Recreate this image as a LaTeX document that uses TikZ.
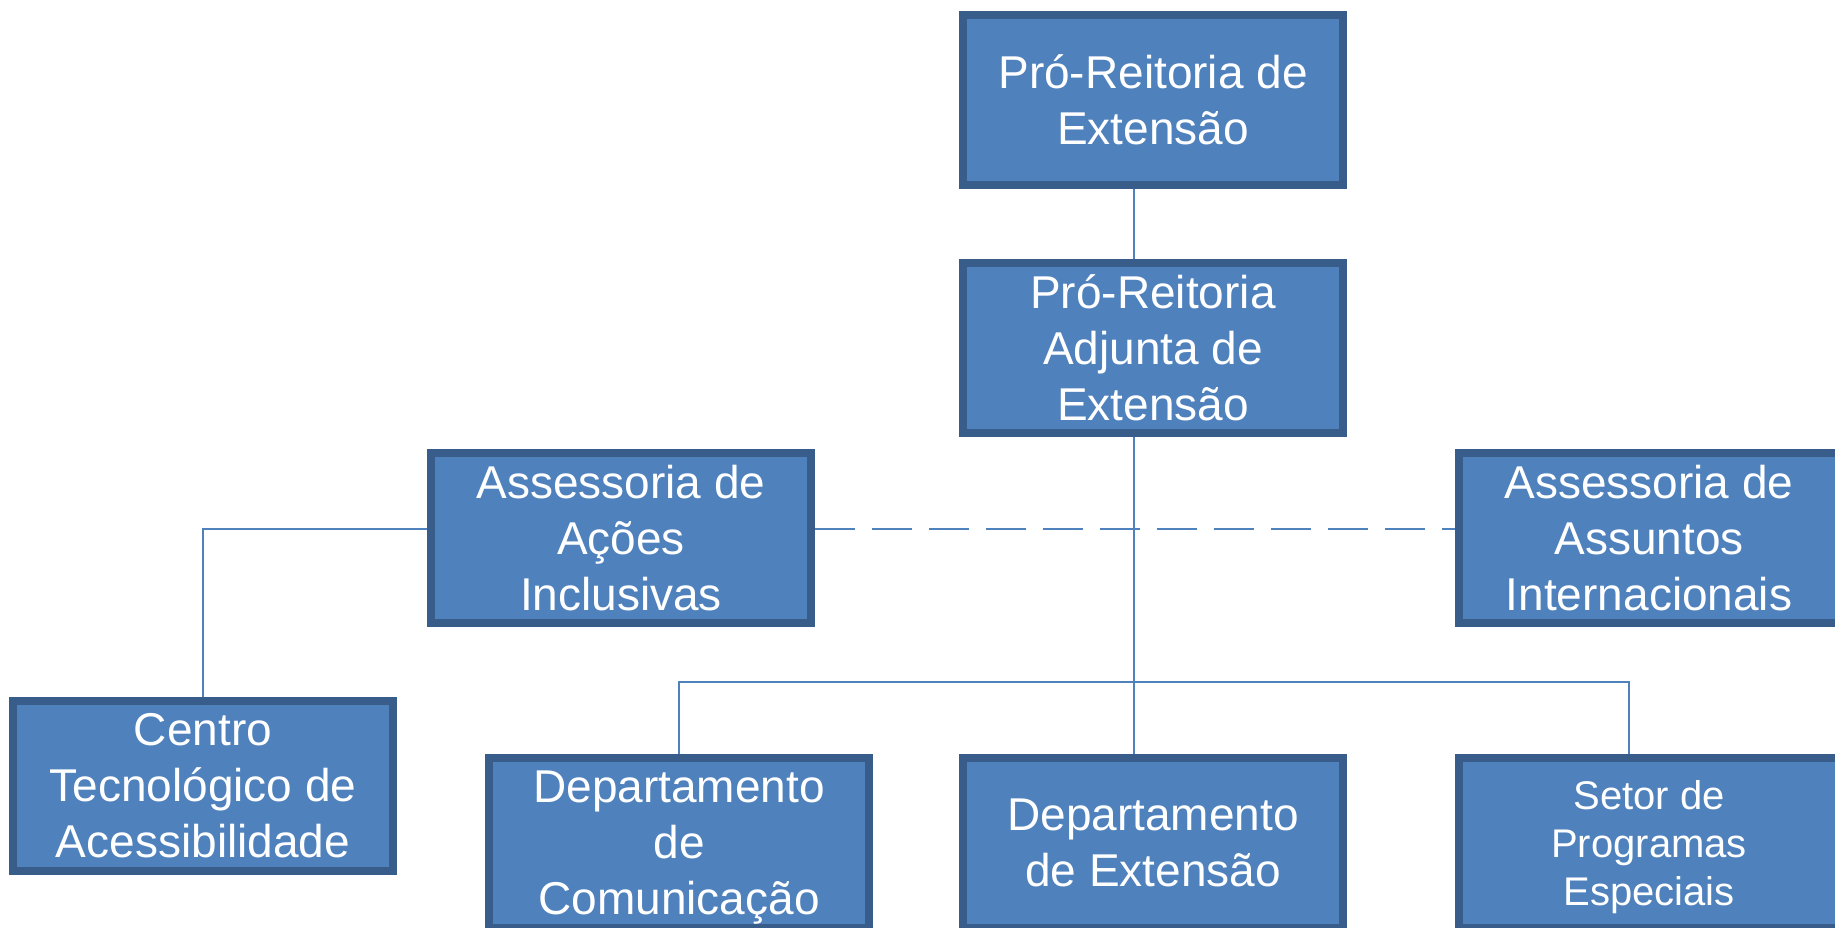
\documentclass[tikz,border=0pt]{standalone}
\usepackage{fontspec}
\setmainfont{Liberation Sans}
\usetikzlibrary{backgrounds,calc}
\definecolor{boxfill}{HTML}{4F81BD}
\definecolor{boxline}{HTML}{385D8A}
\definecolor{conn}{HTML}{4F81BD}
\begin{document}
\begin{tikzpicture}[x=1pt,y=-1pt,
  orgbox/.style={draw=boxline, fill=boxfill, line width=8pt, minimum width=380pt, minimum height=170pt,
    inner sep=0pt, text=white, align=center, font=\fontsize{46}{56}\selectfont},
  smalltext/.style={font=\fontsize{40}{48}\selectfont},
  lowtext/.style={text depth=-4pt},
  link/.style={draw=conn, line width=1.8pt},
  dashlink/.style={link, dash pattern=on 40pt off 17pt}]
\useasboundingbox (0,0) rectangle (1835,928);
\clip (0,0) rectangle (1835,928);
\node[orgbox] (A) at (1153,100) {Pró-Reitoria de\\Extensão};
\node[orgbox] (B) at (1153,348) {Pró-Reitoria\\Adjunta de\\Extensão};
\node[orgbox] (C) at (621,538) {Assessoria de\\Ações\\Inclusivas};
\node[orgbox] (D) at (203,786) {Centro\\Tecnológico de\\Acessibilidade};
\node[orgbox] (E) at (1649,538) {Assessoria de\\Assuntos\\Internacionais};
\node[orgbox] (F) at (1153,843) {Departamento\\de Extensão};
\node[orgbox,lowtext] (G) at (679,843) {Departamento\\de\\Comunicação};
\node[orgbox,smalltext,lowtext] (H) at (1649,843) {Setor de\\Programas\\Especiais};
\coordinate (bus) at (1134,682);
\coordinate (Htop) at ([xshift=-20pt]H.north);
\begin{scope}[on background layer]
  \draw[link] ([xshift=-19pt]A.south) -- ([xshift=-19pt]B.north);
  \draw[link] ([xshift=-19pt]B.south) -- ([xshift=-19pt]F.north);
  \draw[dashlink] ([yshift=9pt]C.east) -- ([yshift=9pt]E.west);
  \draw[link] ([yshift=9pt]C.west) -| (D.north);
  \draw[link] (G.north) -- (G.north |- bus) -- (bus -| Htop) -- (Htop);
\end{scope}
\end{tikzpicture}
\end{document}
